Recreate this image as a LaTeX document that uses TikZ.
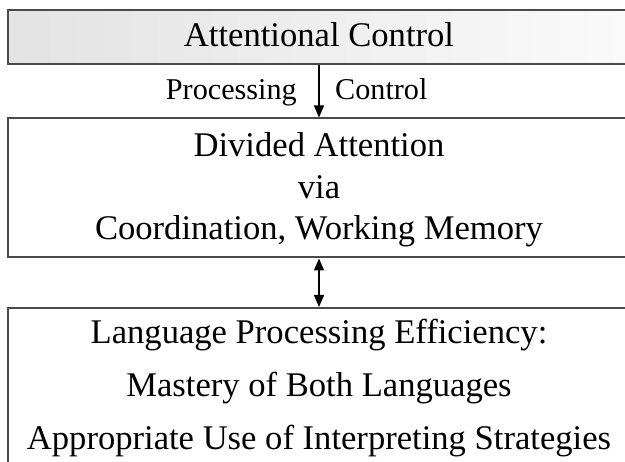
\documentclass[tikz,border=0pt]{standalone}
\usepackage{fontspec}
\setmainfont{Liberation Serif}
\usetikzlibrary{arrows.meta}
\definecolor{edge}{HTML}{4A4A4A}
\tikzset{
  boxshape/.style={draw=edge, line width=2pt, inner sep=0pt, anchor=north west},
  maintext/.style={inner sep=0pt, anchor=base, font=\fontsize{34.6}{40}\selectfont},
  labeltext/.style={inner sep=0pt, font=\fontsize{30.2}{35}\selectfont},
  link/.style={line width=1.5pt, black},
  mytip/.tip={Triangle[length=12pt,width=10pt]}
}
\begin{document}
\begin{tikzpicture}[x=1pt,y=-1pt]
\useasboundingbox (0,0) rectangle (625,462);
\clip (0,0) rectangle (625,462);
\fill[white] (0,0) rectangle (625,462);
% boxes
\node[boxshape, left color=gray!22, right color=gray!3, minimum width=650pt, minimum height=54pt] (b1) at (7.3,9) {};
\node[boxshape, fill=white, minimum width=650pt, minimum height=139pt] (b2) at (7.3,117.5) {};
\node[boxshape, fill=white, minimum width=650pt, minimum height=200pt] (b3) at (7.3,307) {};
% texts
\node[maintext] (t1) at (319,47) {Attentional Control};
\node[maintext] (t2) at (319,157) {Divided Attention};
\node[maintext] (t3) at (319,199) {via};
\node[maintext] (t4) at (319,240) {Coordination, Working Memory};
\node[maintext] (t5) at (319,344) {Language Processing Efficiency:};
\node[maintext] (t6) at (319,397) {Mastery of Both Languages};
\node[maintext] (t7) at (319,450) {Appropriate Use of Interpreting Strategies};
\node[labeltext, anchor=base east] (l1) at (297,100) {Processing};
\node[labeltext, anchor=base west] (l2) at (335,100) {Control};
% connectors
\coordinate (ax) at (319,0);
\draw[link, -mytip] (b1.south -| ax) -- (b2.north -| ax);
\draw[link, mytip-mytip] (b2.south -| ax) -- (b3.north -| ax);
\end{tikzpicture}
\end{document}
